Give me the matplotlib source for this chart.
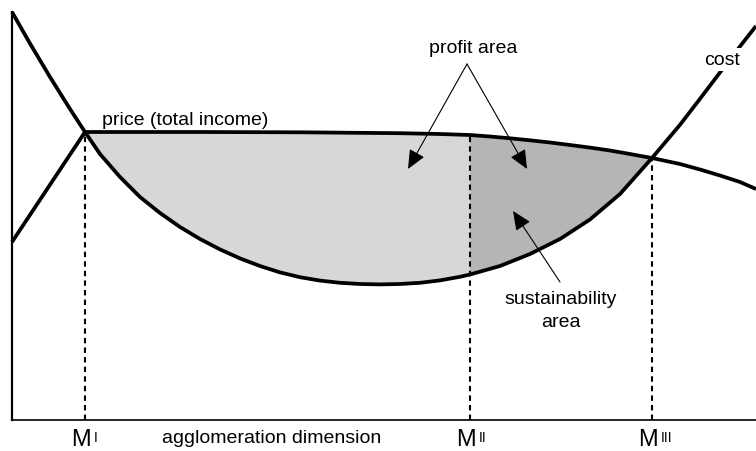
import matplotlib
matplotlib.use("Agg")
import matplotlib.pyplot as plt

plt.rcParams['font.family'] = ['Liberation Sans', 'DejaVu Sans']

# ---- data (chart units: x = agglomeration dimension, y = money) ----
cost_x = [0, 18, 38, 58, 73, 88, 108, 128, 148, 168, 188, 208, 228, 248, 268, 288,
          308, 328, 348, 368, 388, 408, 428, 448, 458, 488, 518, 548, 578, 608,
          640, 668, 688, 710, 728, 744]
cost_y = [408, 376.5, 343, 311, 288, 266, 243, 223, 207, 193, 181, 170.6, 161.6, 154,
          147.6, 142.8, 139.4, 137.2, 136, 135.6, 136, 137.2, 139.6, 143.2, 145.5, 154,
          166, 181, 200.5, 226, 262, 295.2, 321.2, 350.2, 373.6, 394]

price_x = [0, 73, 188, 288, 388, 428, 458, 478, 498, 518, 538, 558, 578, 598, 618,
           640, 668, 688, 708, 728, 744]
price_y = [178, 288, 288, 287.7, 286.8, 286, 285, 283.5, 281.7, 279.7, 277.5, 275,
           272.4, 269.5, 266, 262, 256, 250.5, 244.5, 238, 231]

# indices of the three break-points M I, M II, M III in each series
cost_idx = [4, 24, 30]
price_idx = [1, 6, 15]
m_labels = ['I', 'II', 'III']

fig = plt.figure(figsize=(7.56, 4.52), dpi=100)
ax = fig.add_axes([12 / 756, 31 / 452, 744 / 756, 408 / 452])
ax.set_xlim(0, 744)
ax.set_ylim(0, 408)
for s in ['top', 'right']:
    ax.spines[s].set_visible(False)
ax.spines['left'].set_linewidth(1.6)
ax.spines['bottom'].set_linewidth(1.2)
ax.set_xticks([])
ax.set_yticks([])

# ---- shaded areas ----
c1, c2, c3 = cost_idx
p1, p2, p3 = price_idx
light_x = price_x[p1:p2 + 1] + cost_x[c1:c2 + 1][::-1]
light_y = price_y[p1:p2 + 1] + cost_y[c1:c2 + 1][::-1]
dark_x = price_x[p2:p3 + 1] + cost_x[c2:c3 + 1][::-1]
dark_y = price_y[p2:p3 + 1] + cost_y[c2:c3 + 1][::-1]
ax.fill(light_x, light_y, color='#d7d7d7', lw=0, zorder=1)
ax.fill(dark_x, dark_y, color='#b5b5b5', lw=0, zorder=1)

# ---- dashed verticals ----
for pi in price_idx:
    ax.plot([price_x[pi], price_x[pi]], [0, price_y[pi]], color='black', lw=1.5,
            linestyle=(0, (2.6, 2.0)), zorder=2, clip_on=False)

# ---- curves ----
ax.plot(cost_x, cost_y, color='black', lw=2.7, zorder=3, clip_on=False,
        solid_capstyle='butt', solid_joinstyle='round')
ax.plot(price_x, price_y, color='black', lw=2.7, zorder=3, clip_on=False,
        solid_capstyle='butt', solid_joinstyle='round')

# ---- labels ----
fs = 14
ax.text(90, 296, 'price (total income)', fontsize=fs, ha='left', va='baseline')
ax.text(710, 356, 'cost', fontsize=fs, ha='center', va='baseline', zorder=4,
        bbox=dict(boxstyle='square,pad=0.15', fc='white', ec='none'))
ax.text(461, 368, 'profit area', fontsize=fs, ha='center', va='baseline')
ax.text(549, 117, 'sustainability', fontsize=fs, ha='center', va='baseline')
ax.text(549, 94, 'area', fontsize=fs, ha='center', va='baseline')
ax.text(260, -22, 'agglomeration dimension', fontsize=fs, ha='center',
        va='baseline', clip_on=False)

# ---- arrows ----
apex = (455, 356)
ap = dict(arrowstyle='-|>,head_length=0.9,head_width=0.4', color='black',
          lw=0.8, mutation_scale=13, shrinkA=0, shrinkB=0)
ax.annotate('', xy=(396, 251), xytext=apex, arrowprops=ap, zorder=5)
ax.annotate('', xy=(515, 251), xytext=apex, arrowprops=ap, zorder=5)
ax.annotate('', xy=(501, 209), xytext=(548, 138), arrowprops=ap, zorder=5)

# ---- M labels on the x axis ----
for pi, lab in zip(price_idx, m_labels):
    x = price_x[pi]
    ax.annotate('M', xy=(x, 0), xytext=(4, -18), textcoords='offset points',
                fontsize=17, ha='right', va='baseline', annotation_clip=False)
    ax.annotate(lab, xy=(x, 0), xytext=(6.5, -15), textcoords='offset points',
                fontsize=10, ha='left', va='baseline', annotation_clip=False)

fig.savefig('out.png', dpi=100)
